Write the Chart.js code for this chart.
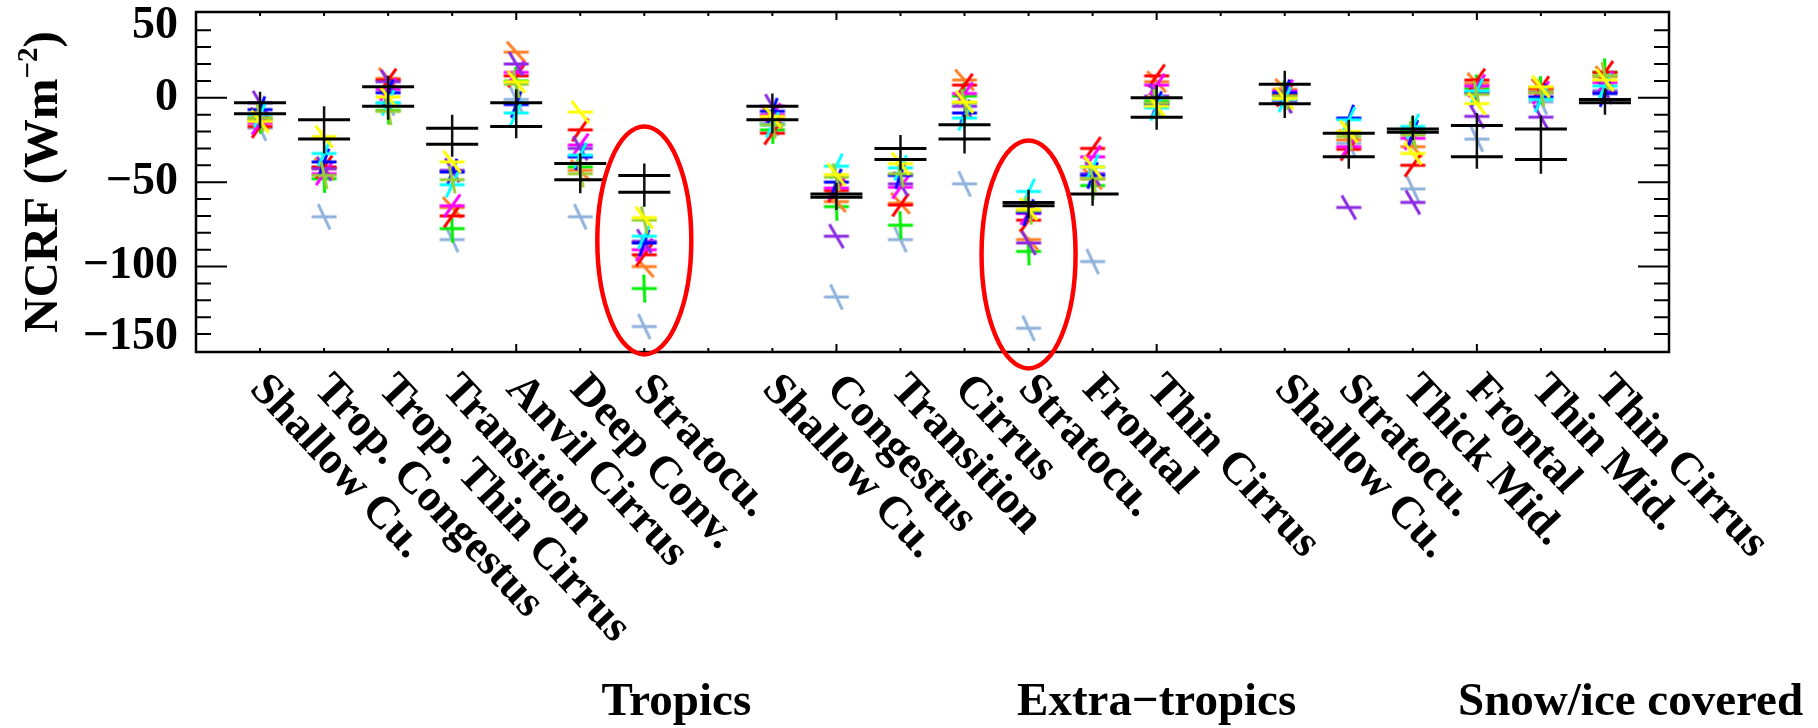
<!DOCTYPE html>
<html lang="en">
<head>
<meta charset="UTF-8">
<title>NCRF by cloud regime</title>
<style>
  html, body { margin: 0; padding: 0; background: #fff; }
</style>
</head>
<body>
<canvas id="grafico" width="1818" height="728"></canvas>

<script src="https://cdn.jsdelivr.net/npm/chart.js"></script>
<script>
// categories (slots 7 and 15 are the empty gaps between the groups)
const categorias = ['Shallow Cu.', 'Trop. Congestus', 'Trop. Thin Cirrus', 'Transition', 'Anvil Cirrus', 'Deep Conv.', 'Stratocu.', '',
  'Shallow Cu.', 'Congestus', 'Transition', 'Cirrus', 'Stratocu.', 'Frontal', 'Thin Cirrus', '',
  'Shallow Cu.', 'Stratocu.', 'Thick Mid.', 'Frontal', 'Thin Mid.', 'Thin Cirrus']
const grupos = ['Tropics', 'Extra\u2212tropics', 'Snow/ice covered']
const yTicks = [-150, -100, -50, 0, 50]

// observations: two estimates + range of the vertical bar
const obsA  = [-3, -13, 6.5, -18, -3, -39, -46, null, -5, -57, -30, -16, -62, -57, 0, null, 8, -21, -18.5, -16.5, -18.5, -1]
const obsB  = [-9.5, -24.5, -5, -27.5, -17, -48.5, -56, null, -13, -59, -36.5, -24.5, -64, null, -11.5, null, -3.5, -35, -20.5, -35, -36.5, -3]
const errHi = [3.5, -5, 13, -10, 5, -33, -39, null, 2.5, -50.5, -22, -10, -54.5, -48, 7.5, null, 16, -13, -10.5, -9, -10.5, 5.5]
const errLo = [-18, -33, -13, -35, -24, -56.5, -64.5, null, -21, -66.5, -43, -33, -71.5, -64, -19, null, -12, -42, -25, -42, -45, -10]

// models
const mYellow    = [-14, -23, 0.5, -38, 9.5, -8.5, -71, null, -11, -45.5, -39, -2.5, -66, -41, -5, null, -0.5, -20, -33, -3.5, 6.5, 10.5]
const mYellowGrn = [-12, -46, -8, -48.5, 8, -45, -72.5, null, -16, -47, -45, -3, -67, -48, -3, null, 1, -23, -22, 2, 3, 13]
const mGreen     = [-13, -48, -7.5, -77.5, 10, -41, -113, null, -19, -64.5, -75.5, 1, -91, -52, -2, null, 2, -21, -19.5, 5.5, 4.5, 15]
const mCyan      = [-10, -33, -3, -51.5, -9, -34, -82, null, -16, -40.5, -41.5, -12, -55.5, -41, -6, null, -1, -13, -17, 4, -1, 7]
const mBlue      = [-7, -38, 3, -44, -4, -35, -86, null, -8, -50, -46, -9, -68, -46, -4, null, 3, -12, -21, 3, 0.5, 2.5]
const mPurple    = [-3, -42, 9.5, -43, 20, -30, -85, null, -5, -82, -51, -5, -86, -45, 1, null, -2, -65, -62, -11, -11.5, 3.5]
const mMagenta   = [-15, -45, 5, -64, 15, -28, -90, null, -10, -53.5, -53, 2.5, -68.5, -35, 7.5, null, 4, -29, -24, 7, 3, 9]
const mRed       = [-17, -41, 10.5, -70, 13, -19, -93, null, -21, -55, -63.5, 7.5, -72.5, -30, 13, null, 1.5, -30.5, -40, 10.5, 6, 15]
const mOrange    = [-12, -42, 11.5, -65, 27, -43, -100, null, -12, -61.5, -62.5, 10.5, -84, -48, 9.5, null, 5, -25, -29, 8.5, 5, 12.5]
const mLightBlue = [-18, -70.5, -3, -84, -1, -70.5, -135.5, null, -15, -118, -84, -51, -136.5, -97, -3, null, -1.5, -27, -54, -24.5, -2.5, 4.5]

// circled regimes (category index, centre value)
const circCats = [6, 12]
const circVals = [-84.5, -92.8]

//------------------------------------------------------

const fonte = '"Liberation Serif", "Times New Roman", serif'

// marker: horizontal dash + slanted stroke
function marcador(cor, ang) {
  const c = document.createElement('canvas')
  c.width = 36; c.height = 36
  const g = c.getContext('2d')
  g.strokeStyle = cor
  g.lineWidth = 3
  g.beginPath()
  g.moveTo(18 - 12.5, 18); g.lineTo(18 + 12.5, 18)
  const a = ang * Math.PI / 180
  const dx = Math.cos(a) * 14, dy = Math.sin(a) * 14
  g.moveTo(18 - dx, 18 - dy); g.lineTo(18 + dx, 18 + dy)
  g.stroke()
  return c
}

const pontos = arr => arr.map((v, i) => ({x: i, y: v})).filter(p => p.y !== null)

const series = [
  [mLightBlue, '#8fb2dc', 65],
  [mGreen, '#00ee00', 88],
  [mOrange, '#ff7f24', 48],
  [mRed, '#ff0000', -55],
  [mMagenta, '#ff00ff', -55],
  [mPurple, '#8a2be2', 60],
  [mBlue, '#0000ff', -70],
  [mCyan, '#00ffff', -65],
  [mYellowGrn, '#9acd32', 78],
  [mYellow, '#ffff00', 52],
]

const barras = []
errHi.forEach((v, i) => {
  if (v === null) return
  barras.push({x: i, y: v}, {x: i, y: errLo[i]}, {x: i, y: null})
})

const datasets = [
  {data: pontos(obsA), pointStyle: 'line', pointRadius: 26, borderWidth: 3, borderColor: '#000', order: 0},
  {data: pontos(obsB), pointStyle: 'line', pointRadius: 26, borderWidth: 3, borderColor: '#000', order: 0},
  {data: barras, showLine: true, spanGaps: false, pointRadius: 0, borderWidth: 2.5, borderColor: '#111', order: 1},
]
series.forEach((s, k) => {
  datasets.push({data: pontos(s[0]), pointStyle: marcador(s[1], s[2]), pointRadius: 12, order: 20 - k})
})

const extras = {
  id: 'extras',
  afterDraw(chart) {
    const {ctx, chartArea: a, scales: {x, y}} = chart
    ctx.save()

    // frame and inward ticks
    ctx.strokeStyle = '#000'
    ctx.lineWidth = 2.5
    ctx.strokeRect(a.left, a.top, a.right - a.left, a.bottom - a.top)
    ctx.lineWidth = 2
    ctx.beginPath()
    for (let v = -140; v <= 40; v += 10) {
      const p = y.getPixelForValue(v), len = v % 50 === 0 ? 31 : 15
      ctx.moveTo(a.left, p); ctx.lineTo(a.left + len, p)
      ctx.moveTo(a.right, p); ctx.lineTo(a.right - len, p)
    }
    for (let i = 0; i < categorias.length; i++) {
      const p = x.getPixelForValue(i), len = i % 5 === 4 ? 8 : 4
      ctx.moveTo(p, a.top); ctx.lineTo(p, a.top + len)
      ctx.moveTo(p, a.bottom); ctx.lineTo(p, a.bottom - len)
    }
    ctx.stroke()

    // red ellipses
    ctx.strokeStyle = '#ff0000'
    ctx.lineWidth = 4.5
    circCats.forEach((c, k) => {
      ctx.beginPath()
      ctx.ellipse(x.getPixelForValue(c), y.getPixelForValue(circVals[k]), 47, 114, 0, 0, Math.PI * 2)
      ctx.stroke()
    })

    ctx.fillStyle = '#000'

    // y tick labels, end ones pulled inside the frame
    ctx.font = 'bold 46px ' + fonte
    ctx.textAlign = 'right'
    ctx.textBaseline = 'middle'
    yTicks.forEach((v, k) => {
      const shift = k === 0 ? -14 : k === yTicks.length - 1 ? 13 : 0
      const txt = v < 0 ? '\u2212' + Math.abs(v) : String(v)
      ctx.fillText(txt, a.left - 18, y.getPixelForValue(v) + shift)
    })

    // slanted category labels
    ctx.font = 'bold 45px ' + fonte
    ctx.textAlign = 'left'
    categorias.forEach((lab, i) => {
      if (!lab) return
      ctx.save()
      ctx.translate(x.getPixelForValue(i) - 3, a.bottom + 30)
      ctx.rotate(47 * Math.PI / 180)
      ctx.fillText(lab, 0, 0)
      ctx.restore()
    })

    // group names
    ctx.font = 'bold 47px ' + fonte
    ctx.textAlign = 'center'
    ctx.textBaseline = 'alphabetic'
    const gx = [6.5, 14, 21.4]
    grupos.forEach((g, k) => ctx.fillText(g, x.getPixelForValue(gx[k]), 715))

    // y title with superscript
    ctx.save()
    ctx.translate(57, (a.top + a.bottom) / 2)
    ctx.rotate(-Math.PI / 2)
    const f1 = 'bold 49px ' + fonte, f2 = 'bold 29px ' + fonte
    const t1 = 'NCRF (Wm', t2 = '\u22122', t3 = ')'
    ctx.font = f1; const w1 = ctx.measureText(t1).width, w3 = ctx.measureText(t3).width
    ctx.font = f2; const w2 = ctx.measureText(t2).width
    let px = -(w1 + w2 + w3) / 2
    ctx.textAlign = 'left'
    ctx.font = f1; ctx.fillText(t1, px, 0); px += w1
    ctx.font = f2; ctx.fillText(t2, px, -20); px += w2
    ctx.font = f1; ctx.fillText(t3, px, 0)
    ctx.restore()

    ctx.restore()
  }
}

const ctx = document.getElementById('grafico')

const grafico = new Chart(ctx, {
  type: 'scatter',
  data: {datasets},
  options: {
    responsive: false,
    animation: false,
    events: [],
    devicePixelRatio: 1,
    layout: {autoPadding: false, padding: {top: 12, right: 149, left: 0, bottom: 0}},
    plugins: {legend: {display: false}, tooltip: {enabled: false}},
    scales: {
      x: {
        type: 'linear', min: -1, max: 22,
        grid: {display: false}, border: {display: false},
        ticks: {display: false},
        afterFit: s => { s.height = 376; s.paddingLeft = 0; s.paddingRight = 0 }
      },
      y: {
        min: -150.6, max: 50.8,
        grid: {display: false, drawTicks: false}, border: {display: false},
        afterBuildTicks: s => { s.ticks = yTicks.map(v => ({value: v})) },
        afterFit: s => { s.width = 196; s.paddingTop = 0; s.paddingBottom = 0 },
        ticks: {display: false}
      }
    }
  },
  plugins: [extras]
})
</script>
</body>
</html>
